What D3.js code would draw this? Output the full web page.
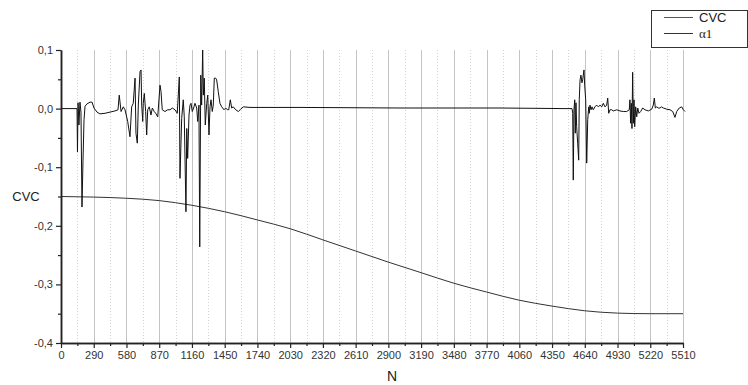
<!DOCTYPE html>
<html><head><meta charset="utf-8">
<script src="https://cdn.jsdelivr.net/npm/d3@7"></script>
<style>body{margin:0;background:#fff}svg{display:block}</style>
</head><body>
<svg id="c" width="748" height="385"></svg>
<script>
const xTicks = [0,290,580,870,1160,1450,1740,2030,2320,2610,2900,3190,3480,3770,4060,4350,4640,4930,5220,5510];
const yTicks = [-0.4,-0.3,-0.2,-0.1,0.0,0.1];
const seriesNames = ["CVC","\u03B11"];

// CVC series (N, value)
const cvcN = [0,142,146,151,159,168,177,186,195,204,213,230,257,275,292,319,345,390,434,478,505,516,532,552,567,591,611,626,640,656,664,676,685,700,709,715,724,729,738,750,759,768,782,797,809,826,839,857,877,886,897,921,945,966,986,1010,1030,1048,1054,1069,1083,1092,1107,1114,1122,1134,1143,1152,1163,1178,1187,1202,1211,1222,1229,1238,1246,1255,1261,1269,1278,1291,1300,1311,1320,1329,1340,1349,1358,1370,1379,1393,1408,1424,1444,1459,1473,1486,1500,1512,1526,1548,1571,1592,1615,1674,2117,3003,3889,4465,4527,4533,4538,4544,4551,4556,4562,4568,4577,4586,4591,4598,4606,4615,4621,4633,4639,4648,4657,4666,4675,4680,4686,4695,4704,4715,4730,4745,4760,4775,4790,4804,4819,4834,4843,4852,4863,4878,4893,4923,4952,4981,5011,5034,5040,5046,5052,5058,5064,5070,5076,5082,5091,5100,5109,5120,5135,5153,5173,5203,5233,5247,5256,5265,5277,5291,5306,5321,5336,5366,5395,5419,5439,5454,5477,5499,5513,5528];
const cvcV = [0,0,-0.074,0.010,-0.028,0.011,-0.006,-0.168,-0.088,-0.019,0.004,0.008,0.011,0.011,0.001,-0.006,-0.009,-0.008,-0.006,-0.004,-0.002,0.023,-0.005,0.003,-0.002,-0.022,-0.048,0.003,0.009,0.052,-0.042,-0.059,0.006,0.063,0.066,0.006,-0.022,0.009,0.026,-0.005,-0.045,-0.002,0.003,-0.011,0.001,-0.005,-0.008,-0.014,0.040,0.029,-0.002,-0.005,-0.002,-0.002,0.001,-0.002,-0.008,0.054,-0.119,-0.017,0.015,-0.014,-0.176,-0.034,-0.085,-0.011,0.006,0.009,-0.005,0.003,0.009,0.001,-0.022,0.006,-0.236,0.057,0.006,0.100,0.023,0.052,-0.028,0.009,0.023,-0.045,0.003,0.015,-0.005,0.006,0.052,0.052,0.049,0.029,0.009,0.003,-0.002,0.001,-0.002,-0.002,0.015,0.001,0.003,-0.002,-0.005,-0.001,0.003,0.002,0.002,0.001,0.001,0,0,-0.008,-0.122,-0.002,0.015,-0.042,0.010,-0.031,-0.059,-0.088,0.015,0.049,0.057,0.044,0.049,0.066,0.040,0.015,-0.093,-0.019,0.003,-0.008,0.006,-0.002,0.003,-0.002,0.003,0.006,0.003,0.006,0.003,0.009,0.003,0.006,0.018,-0.008,-0.002,-0.002,-0.004,-0.002,-0.004,-0.005,-0.005,-0.002,0.015,-0.025,0.009,-0.034,0.062,-0.025,0.015,-0.031,0.003,-0.014,0.001,-0.008,-0.005,0.001,-0.002,-0.004,-0.001,0.006,0.018,0.001,0.003,0.001,0.001,0.003,0.001,-0.001,-0.002,-0.005,-0.015,-0.005,0.001,0.003,-0.002,-0.005];

// alpha1 series (N, value)
const alphaN = [0,290,580,870,1160,1450,1740,2030,2320,2610,2900,3190,3480,3770,4060,4350,4640,4930,5220,5510];
const alphaV = [-0.150,-0.151,-0.153,-0.157,-0.165,-0.176,-0.190,-0.205,-0.224,-0.243,-0.262,-0.280,-0.298,-0.313,-0.327,-0.337,-0.345,-0.349,-0.350,-0.350];

const svg = d3.select("#c");
const x = d3.scaleLinear().domain([0,5510]).range([61,683]);
const y = d3.scaleLinear().domain([-0.4,0.1]).range([343,50]);

const loc = d3.formatLocale({decimal:",",thousands:"",grouping:[3],currency:["",""],minus:"-"});
const fy = loc.format(".1f");

// minor values
const xMinor = xTicks.slice(0,-1).map(v=>v+145);
const yMinor = yTicks.slice(0,-1).map(v=>v+0.05);

// grid
const g = svg.append("g");
g.selectAll(".gmaj").data(xTicks.slice(1)).join("line")
  .attr("x1",d=>Math.round(x(d))+0.5).attr("x2",d=>Math.round(x(d))+0.5)
  .attr("y1",y(0.1)).attr("y2",y(-0.4))
  .attr("stroke","#c4c4c4").attr("stroke-width",1);
g.selectAll(".gmin").data(xMinor).join("line")
  .attr("x1",d=>Math.round(x(d))+0.5).attr("x2",d=>Math.round(x(d))+0.5)
  .attr("y1",y(0.1)).attr("y2",y(-0.4))
  .attr("stroke","#d4d4d4").attr("stroke-width",1).attr("stroke-dasharray","1,2");

// lines
const line = d3.line().x(d=>x(d[0])).y(d=>y(d[1]));
svg.append("path").datum(alphaN.map((n,i)=>[n,alphaV[i]]))
  .attr("d",d3.line().x(d=>x(d[0])).y(d=>y(d[1])).curve(d3.curveMonotoneX))
  .attr("fill","none").attr("stroke","#333").attr("stroke-width",1);
svg.append("path").datum(cvcN.map((n,i)=>[n,cvcV[i]]))
  .attr("d",line).attr("fill","none").attr("stroke","#111").attr("stroke-width",1);

// axes
const font = "'Liberation Sans', Arial, sans-serif";
const ax = svg.append("g").attr("transform","translate(0,343)")
  .call(d3.axisBottom(x).tickValues(xTicks).tickSize(5).tickSizeOuter(0).tickFormat(d3.format("d")));
const axm = svg.append("g").attr("transform","translate(0,343)")
  .call(d3.axisBottom(x).tickValues(xMinor).tickSize(3).tickSizeOuter(0).tickFormat(""));
const ay = svg.append("g").attr("transform","translate(61,0)")
  .call(d3.axisLeft(y).tickValues(yTicks).tickSize(5).tickSizeOuter(0).tickFormat(fy));
const aym = svg.append("g").attr("transform","translate(61,0)")
  .call(d3.axisLeft(y).tickValues(yMinor).tickSize(3).tickSizeOuter(0).tickFormat(""));
[ax,axm,ay,aym].forEach(a=>{
  a.select(".domain").attr("stroke","#222").attr("stroke-width",1.5);
  a.selectAll(".tick line").attr("stroke","#222").attr("stroke-width",1.2);
  a.selectAll(".tick text").attr("font-family",font).attr("font-size",11).attr("fill","#333");
});
ax.selectAll(".tick text").attr("dy","0.9em").attr("y",6);
ay.selectAll(".tick text").attr("x",-8);

// axis titles
svg.append("text").attr("x",26).attr("y",201).attr("text-anchor","middle")
  .attr("font-family",font).attr("font-size",13).attr("fill","#222").text("CVC");
svg.append("text").attr("x",392).attr("y",381).attr("text-anchor","middle")
  .attr("font-family",font).attr("font-size",14).attr("fill","#222").text("N");

// legend
const lg = svg.append("g");
lg.append("rect").attr("x",651.5).attr("y",10.5).attr("width",96).attr("height",37)
  .attr("fill","#fff").attr("stroke","#333").attr("stroke-width",1);
const ly = [17,33];
lg.selectAll(".ll").data(seriesNames).join("line")
  .attr("x1",664).attr("x2",693).attr("y1",(d,i)=>ly[i]+0.5).attr("y2",(d,i)=>ly[i]+0.5)
  .attr("stroke",(d,i)=>i===0?"#555":"#333").attr("stroke-width",1);
lg.selectAll(".lt").data(seriesNames).join("text")
  .attr("x",699).attr("y",(d,i)=>ly[i]+4.5)
  .attr("font-family",(d,i)=>i===0?font:"'Liberation Serif', 'Times New Roman', serif")
  .attr("font-size",13).attr("fill","#222").text(d=>d);
</script>
</body></html>
